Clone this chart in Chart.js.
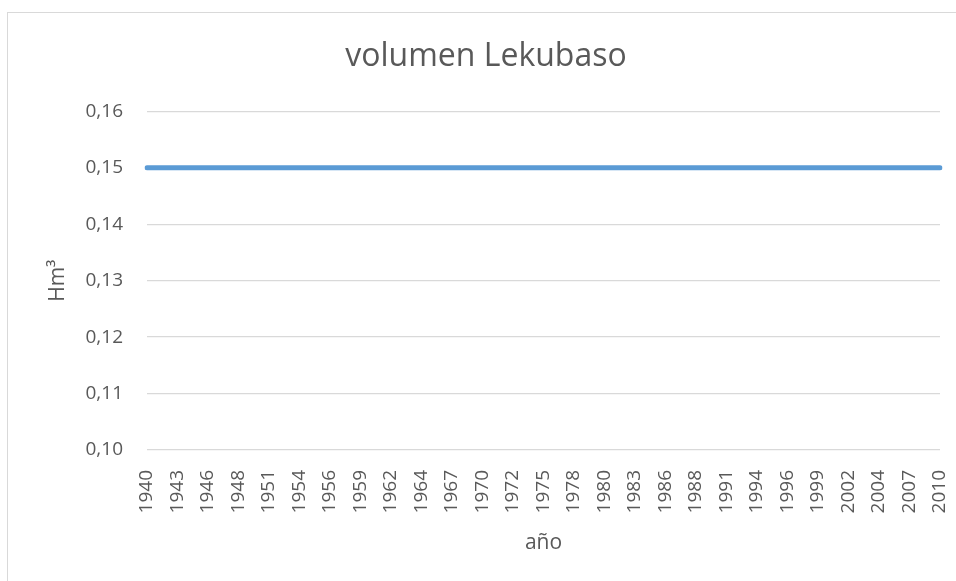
<!DOCTYPE html>
<html>
<head>
<meta charset="utf-8">
<script src="https://cdn.jsdelivr.net/npm/chart.js@4.4.0/dist/chart.umd.min.js"></script>
<style>
  html, body { margin: 0; padding: 0; background: #fff; overflow: hidden; }
  #frame {
    position: absolute;
    left: 7px;
    top: 12px;
    border-left: 1px solid #d9d9d9;
    border-top: 1px solid #d9d9d9;
  }
  canvas { display: block; }
</style>
</head>
<body>
<div id="frame">
  <canvas id="chart" width="950" height="580"></canvas>
</div>
<script>
// x axis labels as they appear on the chart
const years = ['1940', '1943', '1946', '1948', '1951', '1954', '1956', '1959', '1962',
    '1964', '1967', '1970', '1972', '1975', '1978', '1980', '1983', '1986', '1988',
    '1991', '1994', '1996', '1999', '2002', '2004', '2007', '2010'];

// volume (Hm3) — flat over the whole period
const volumen = [0.15, 0.15, 0.15, 0.15, 0.15, 0.15, 0.15, 0.15, 0.15,
    0.15, 0.15, 0.15, 0.15, 0.15, 0.15, 0.15, 0.15, 0.15, 0.15,
    0.15, 0.15, 0.15, 0.15, 0.15, 0.15, 0.15, 0.15];

const yTicks = [0.10, 0.11, 0.12, 0.13, 0.14, 0.15, 0.16];

const textColor = '#595959';
const gridColor = '#d9d9d9';
const fontFamily = '"Open Sans", "Liberation Sans", sans-serif';

const ctx = document.getElementById('chart').getContext('2d');

new Chart(ctx, {
    type: 'line',
    data: {
        labels: years,
        datasets: [{
            label: 'volumen',
            data: volumen,
            borderColor: '#5b9bd5',
            borderWidth: 5,
            borderCapStyle: 'round',
            pointRadius: 0,
            tension: 0,
            fill: false
        }]
    },
    options: {
        responsive: false,
        animation: false,
        layout: {
            // left padding keeps the title centred on the (wider) chart box
            padding: { left: 24, right: 18, top: 0, bottom: 0 }
        },
        plugins: {
            legend: { display: false },
            tooltip: { enabled: false },
            title: {
                display: true,
                text: 'volumen Lekubaso',
                color: textColor,
                font: { family: fontFamily, size: 32, weight: 'normal' },
                padding: { top: 25, bottom: 35 }
            }
        },
        scales: {
            x: {
                offset: false,
                grid: { display: false },
                border: { display: false },
                ticks: {
                    color: textColor,
                    font: { family: fontFamily, size: 19 },
                    autoSkip: false,
                    minRotation: 90,
                    maxRotation: 90,
                    padding: 12
                },
                title: {
                    display: true,
                    text: 'año',
                    color: textColor,
                    font: { family: fontFamily, size: 21 },
                    padding: { top: 0, bottom: 37 }
                },
                afterFit: function(scale) {
                    scale.height = 143;
                    // no extra room for the end labels, the plot runs to the padding
                    scale.paddingLeft = 0;
                    scale.paddingRight = 0;
                }
            },
            y: {
                min: 0.10,
                max: 0.16,
                afterBuildTicks: function(scale) {
                    scale.ticks = yTicks.map(v => ({ value: v }));
                },
                grid: {
                    color: gridColor,
                    lineWidth: 1.3,
                    drawTicks: false
                },
                border: { display: false },
                ticks: {
                    color: textColor,
                    font: { family: fontFamily, size: 19 },
                    padding: 24,
                    callback: function(value) {
                        return value.toFixed(2).replace('.', ',');
                    }
                },
                title: {
                    display: true,
                    text: 'Hm³',
                    color: textColor,
                    font: { family: fontFamily, size: 21 },
                    padding: { top: 13, bottom: 0 }
                },
                afterFit: function(scale) {
                    scale.width = 115;
                }
            }
        }
    }
});
</script>
</body>
</html>
